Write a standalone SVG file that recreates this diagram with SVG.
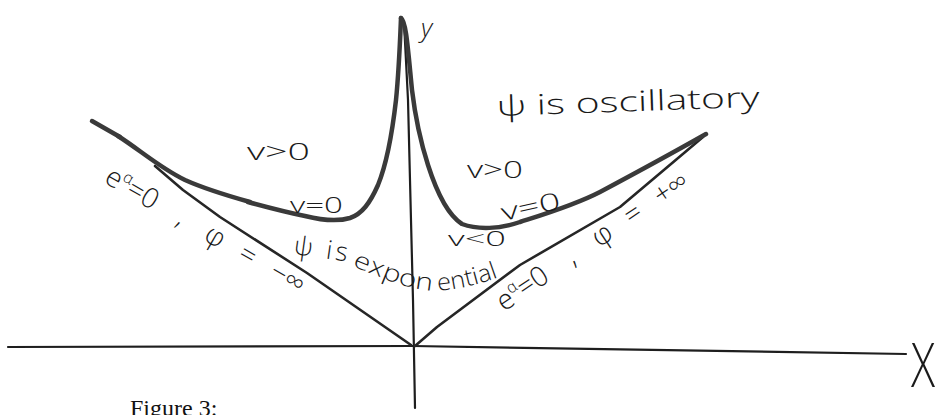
<svg xmlns="http://www.w3.org/2000/svg" width="942" height="415" viewBox="0 0 942 415">
<style>
  .axis { fill: none; stroke: #1e1e1e; stroke-width: 2.2; stroke-linecap: round; stroke-linejoin: round; }
  .curve { fill: none; stroke: #3a3a3a; stroke-width: 4.5; stroke-linecap: round; stroke-linejoin: round; }
  .line { fill: none; stroke: #262626; stroke-width: 2.6; stroke-linecap: round; stroke-linejoin: round; }
  .hand { font-family: "Open Sans", "DejaVu Sans", sans-serif; font-weight: 300; fill: #1a1a1a; }
  .cap { font-family: "Liberation Serif", serif; fill: #111; }
</style>
<rect width="942" height="415" fill="#ffffff"/>

<g id="axes">
  <path class="axis" d="M8,347 L413,346 L906,354"/>
  <path class="axis" d="M404,22 L408,100 L413,300 L415,408"/>
  <text class="hand" x="421" y="37" font-size="26" font-style="italic">y</text>
  <text class="hand" x="911" y="387" font-size="60" textLength="24" lengthAdjust="spacingAndGlyphs">X</text>
</g>

<g id="connectors">
  <path class="line" d="M411,345 L307,273 L220,217 L183,190 L155,166"/>
  <path class="line" d="M415,346 L437,327 L520,265 L620,207 L703,137"/>
  <path class="curve" stroke-width="1.6" d="M92,121 L120,137"/>
  <path class="curve" stroke-width="6.5" d="M118,136 C140,150 160,168 185,180 C205,189 225,195 250,202"/>
  <path class="curve" d="M248,202 C270,208 290,213 305,216 C325,221 340,221 350,218 C362,214 370,203 378,185 C387,163 392,135 396,100 C399,70 400,42 401,18"/>
  <path class="curve" d="M401,18 C406,20 408,50 412,90 C415,115 420,140 428,165 C436,190 448,215 462,224 C478,230 500,229 520,222 C545,214 575,205 600,192 C630,176 660,160 706,134"/>
</g>

<g id="labels">
  <text class="hand" x="497" y="116" font-size="28" textLength="263" lengthAdjust="spacingAndGlyphs" transform="rotate(-2 497 116)">ψ is oscillatory</text>
  <text class="hand" x="247" y="160" font-size="24" textLength="63" lengthAdjust="spacingAndGlyphs">v&gt;0</text>
  <text class="hand" x="290" y="213" font-size="22" textLength="53" lengthAdjust="spacingAndGlyphs">v=0</text>
  <text class="hand" x="293" y="254" font-size="26" textLength="54" lengthAdjust="spacing" transform="rotate(8 293 254)">ψ is</text>
  <path id="expPath1" d="M352,266 Q372,274 392,282 Q415,290 438,291" fill="none"/>
  <path id="expPath2" d="M438,291 Q470,288 502,276" fill="none"/>
  <text class="hand" font-size="24"><textPath href="#expPath1" textLength="84" lengthAdjust="spacingAndGlyphs">expon</textPath></text>
  <text class="hand" font-size="24"><textPath href="#expPath2" textLength="62" lengthAdjust="spacingAndGlyphs">ential</textPath></text>
  <text class="hand" x="467" y="178" font-size="24" textLength="56" lengthAdjust="spacingAndGlyphs">v&gt;0</text>
  <text class="hand" x="503" y="221" font-size="24" textLength="60" lengthAdjust="spacingAndGlyphs" transform="rotate(-12 503 221)">v=0</text>
  <text class="hand" x="448" y="246" font-size="21" textLength="58" lengthAdjust="spacingAndGlyphs">v&lt;0</text>
  <text class="hand" x="504" y="312" font-size="28" transform="rotate(-34 504 312)">e<tspan font-size="16" dy="-11">α</tspan><tspan dy="11">=0</tspan><tspan dx="26">,</tspan><tspan dx="26">φ</tspan><tspan dx="20">=</tspan><tspan dx="20">+∞</tspan></text>
  <text class="hand" x="103" y="182" font-size="28" transform="rotate(30 103 182)">e<tspan font-size="16" dy="-11">α</tspan><tspan dy="11">=0</tspan><tspan dx="26">,</tspan><tspan dx="26">φ</tspan><tspan dx="20">=</tspan><tspan dx="20">−∞</tspan></text>
</g>

<g id="caption">
  <text class="cap" x="130" y="416" font-size="24">Figure 3:</text>
</g>
</svg>
